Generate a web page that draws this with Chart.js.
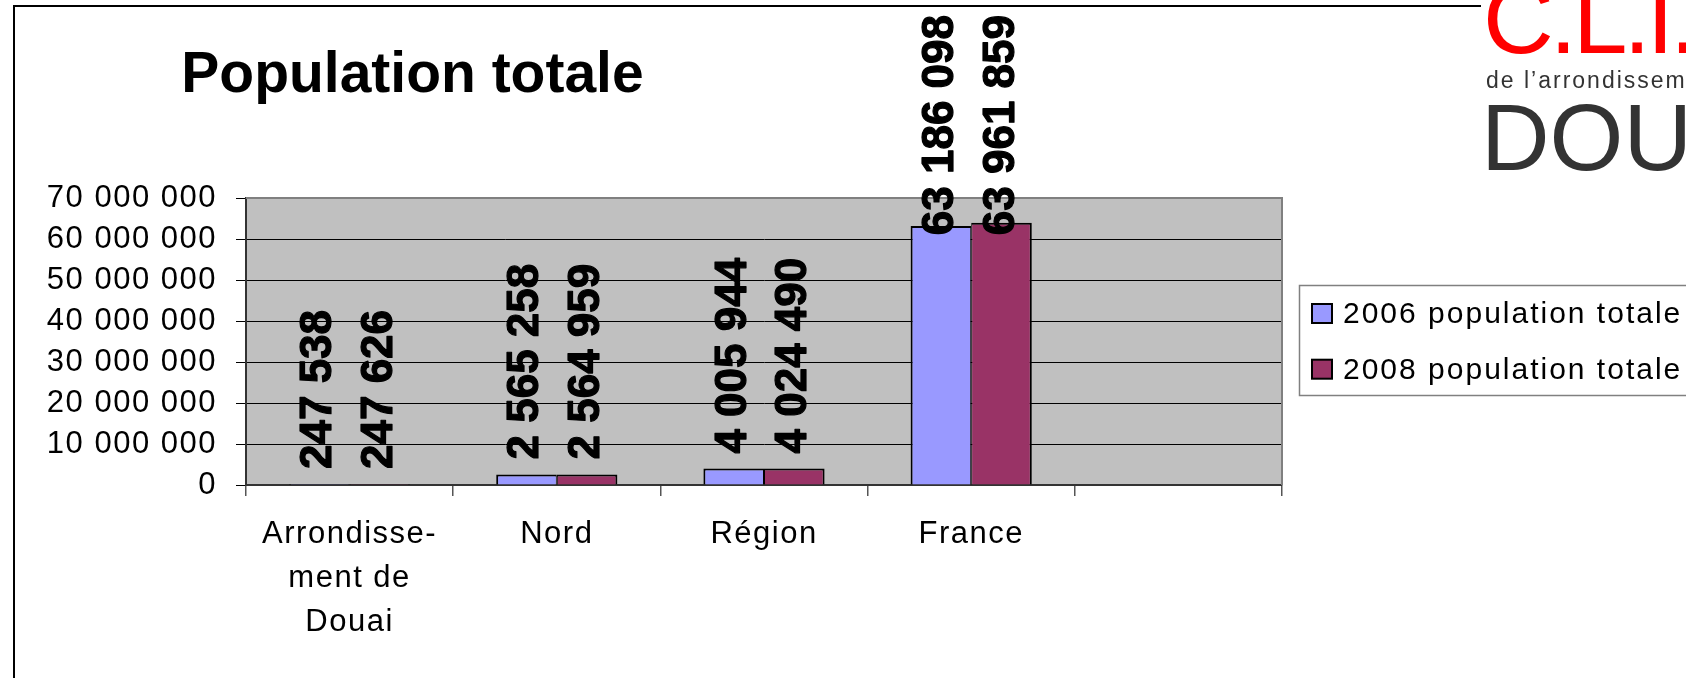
<!DOCTYPE html>
<html><head><meta charset="utf-8">
<script src="https://cdn.jsdelivr.net/npm/chart.js@4/dist/chart.umd.min.js"></script>
<style>html,body{margin:0;padding:0;background:#fff;overflow:hidden}canvas{display:block}</style>
</head><body>
<canvas id="c" width="1686" height="678"></canvas>
<script>
const chartTitle = 'Population totale';
const categories = [['Arrondisse-', 'ment de', 'Douai'], 'Nord', 'Région', 'France', ''];
const seriesNames = ['2006 population totale', '2008 population totale'];
const seriesColors = ['#9999ff', '#993366'];
const pop2006 = [247538, 2565258, 4005944, 63186098, null];
const pop2008 = [247626, 2564959, 4024490, 63961859, null];
const yMin = 0, yMax = 70000000, yStep = 10000000;
const logoTitle = 'C.L.I.C.';
const logoSub = 'de l\u2019arrondissement de Douai';
const logoCity = 'DOUAI';

const FONT = "'Liberation Sans', Arial, Helvetica, sans-serif";
const fmt = n => String(Math.round(n)).replace(/\B(?=(\d{3})+(?!\d))/g, ' ');

const frame = {
  id: 'frame',
  beforeDraw(chart) {
    const {ctx, chartArea: a} = chart;
    ctx.save();
    ctx.fillStyle = '#fff';
    ctx.fillRect(0, 0, chart.width, chart.height);
    ctx.strokeStyle = '#000';
    ctx.lineWidth = 2;
    ctx.beginPath();
    ctx.moveTo(14, 690); ctx.lineTo(14, 6); ctx.lineTo(1481, 6);
    ctx.stroke();
    ctx.fillStyle = '#c0c0c0';
    ctx.fillRect(a.left, a.top, a.right - a.left, a.bottom - a.top);
    ctx.restore();
    ctx.letterSpacing = '1.5px';
  },
  beforeDatasetsDraw(chart) {
    const {ctx, chartArea: a} = chart;
    ctx.save();
    ctx.strokeStyle = '#808080';
    ctx.lineWidth = 2;
    ctx.beginPath();
    ctx.moveTo(a.left, a.top); ctx.lineTo(a.right, a.top); ctx.lineTo(a.right, a.bottom);
    ctx.stroke();
    ctx.restore();
  },
  afterDatasetsDraw(chart) {
    const ctx = chart.ctx;
    chart.data.datasets.forEach((ds, i) => {
      const meta = chart.getDatasetMeta(i);
      meta.data.forEach((el, j) => {
        const v = ds.data[j];
        if (v == null) return;
        const txt = fmt(v);
        ctx.save();
        ctx.letterSpacing = '0px';
        ctx.font = 'bold 44px ' + FONT;
        const w = ctx.measureText(txt).width;
        let y = el.y - 15;
        if (y - w < 15) y = 15 + w;
        ctx.translate(el.x + 12, y);
        ctx.rotate(-Math.PI / 2);
        ctx.textAlign = 'left';
        ctx.textBaseline = 'alphabetic';
        ctx.fillStyle = '#000';
        ctx.strokeStyle = '#000';
        ctx.lineWidth = 1.2;
        ctx.lineJoin = 'round';
        ctx.fillText(txt, 0, 0);
        ctx.strokeText(txt, 0, 0);
        ctx.restore();
      });
    });
  },
  afterDraw(chart) {
    const ctx = chart.ctx;
    ctx.save();
    ctx.letterSpacing = '0px';
    // title
    ctx.font = 'bold 57px ' + FONT;
    ctx.fillStyle = '#000';
    ctx.textAlign = 'center';
    ctx.textBaseline = 'alphabetic';
    ctx.fillText(chartTitle, 412.5, 92);
    // legend
    ctx.fillStyle = '#fff';
    ctx.fillRect(1299, 285, 420, 111);
    ctx.strokeStyle = '#808080';
    ctx.lineWidth = 1.5;
    ctx.strokeRect(1299.5, 285.5, 500, 110);
    ctx.textAlign = 'left';
    ctx.font = '30px ' + FONT;
    ctx.letterSpacing = '2px';
    chart.data.datasets.forEach((ds, i) => {
      const sy = 304 + i * 55.7;
      ctx.fillStyle = ds.backgroundColor;
      ctx.fillRect(1312, sy, 20, 19);
      ctx.strokeStyle = '#000';
      ctx.lineWidth = 2;
      ctx.strokeRect(1312, sy, 20, 19);
      ctx.fillStyle = '#000';
      ctx.fillText(ds.label, 1343, 323.3 + i * 55.7);
    });
    // logo
    ctx.letterSpacing = '-4px';
    ctx.fillStyle = '#ff0000';
    ctx.font = '98px ' + FONT;
    ctx.fillText(logoTitle, 1483, 53);
    ctx.fillStyle = '#333333';
    ctx.font = '23px ' + FONT;
    ctx.letterSpacing = '2px';
    ctx.fillText(logoSub, 1486, 88);
    ctx.letterSpacing = '0px';
    ctx.font = '95px ' + FONT;
    ctx.fillText(logoCity, 1481, 170);
    ctx.restore();
    ctx.letterSpacing = '0px';
  }
};

new Chart(document.getElementById('c'), {
  type: 'bar',
  data: {
    labels: categories,
    datasets: [
      { label: seriesNames[0], data: pop2006, backgroundColor: seriesColors[0], borderColor: '#000',
        borderWidth: {top: 2, left: 2, right: 1, bottom: 0} },
      { label: seriesNames[1], data: pop2008, backgroundColor: seriesColors[1], borderColor: '#000',
        borderWidth: {top: 2, left: 1, right: 2, bottom: 0} }
    ]
  },
  options: {
    responsive: false,
    animation: false,
    devicePixelRatio: 1,
    layout: { padding: { left: 0, top: 198, right: 404, bottom: 0 } },
    datasets: { bar: { categoryPercentage: 0.585, barPercentage: 1 } },
    plugins: { legend: { display: false }, title: { display: false }, tooltip: { enabled: false } },
    scales: {
      x: {
        afterFit(s) { s.height = 193; },
        grid: { offset: true, drawOnChartArea: false, drawTicks: true, tickLength: 11, color: '#555', lineWidth: 1.5 },
        border: { display: true, color: '#333', width: 2 },
        ticks: { font: { size: 31, family: FONT, lineHeight: 1.42 }, color: '#000', padding: 16, maxRotation: 0, autoSkip: false }
      },
      y: {
        min: yMin, max: yMax,
        afterFit(s) { s.width = 246; },
        ticks: { stepSize: yStep, callback: v => fmt(v), font: { size: 31, family: FONT }, color: '#000', padding: 19 },
        grid: { color: c => (c.tick && c.tick.value === yMax) ? '#808080' : '#000', lineWidth: 1, tickLength: 10, tickColor: '#000' },
        border: { display: true, color: '#333', width: 2 }
      }
    }
  },
  plugins: [frame]
});
</script>
</body></html>
